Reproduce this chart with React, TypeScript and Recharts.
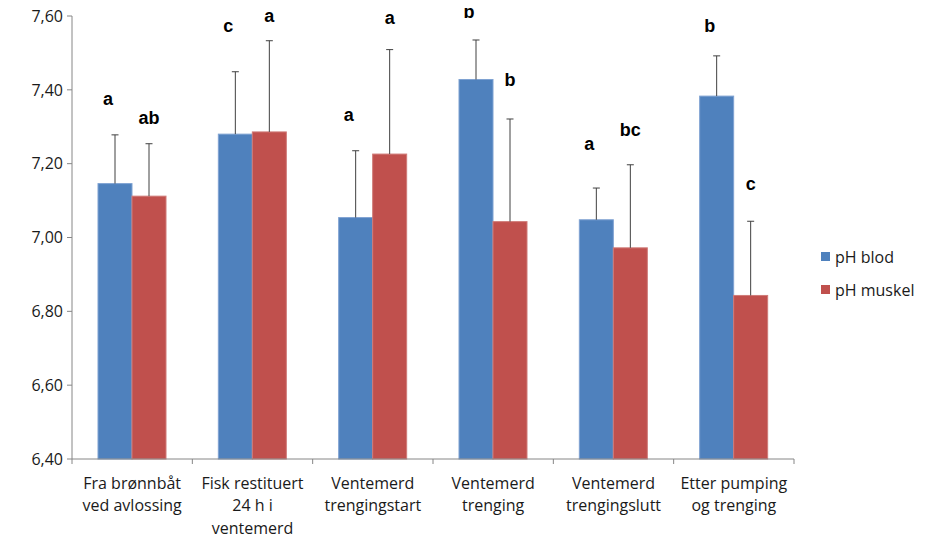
import * as React from "react";
import { Bar, BarChart, XAxis, YAxis } from "recharts";

const categories = [
  "Fra brønnbåt\nved avlossing",
  "Fisk restituert\n24 h i\nventemerd",
  "Ventemerd\ntrengingstart",
  "Ventemerd\ntrenging",
  "Ventemerd\ntrengingslutt",
  "Etter pumping\nog trenging",
];
const phBlod = [7.146, 7.28, 7.054, 7.428, 7.048, 7.383];
const phMuskel = [7.112, 7.286, 7.226, 7.043, 6.972, 6.843];
const errBlod = [0.132, 0.169, 0.181, 0.107, 0.086, 0.109];
const errMuskel = [0.142, 0.247, 0.283, 0.278, 0.225, 0.201];
const letterBlod = ["a", "c", "a", "b", "a", "b"];
const letterMuskel = ["ab", "a", "a", "b", "bc", "c"];
// where each significance letter sits, in pH units
const letterAtBlod = [7.374, 7.572, 7.331, 7.61, 7.252, 7.572];
const letterAtMuskel = [7.325, 7.599, 7.594, 7.426, 7.29, 7.146];
const yTicks = [6.4, 6.6, 6.8, 7.0, 7.2, 7.4, 7.6];

const Y_MIN = yTicks[0];
const AXIS_COLOR = "#868686";
const FONT = "'Open Sans', sans-serif";

const data = categories.map((name, i) => ({
  name,
  blod: phBlod[i],
  muskel: phMuskel[i],
  errBlod: errBlod[i],
  errMuskel: errMuskel[i],
  letterBlod: letterBlod[i],
  letterMuskel: letterMuskel[i],
  letterAtBlod: letterAtBlod[i],
  letterAtMuskel: letterAtMuskel[i],
}));

const series = [
  { key: "blod", name: "pH blod", color: "#4F81BD", edge: "#7FA2D2", err: "errBlod", letter: "letterBlod", at: "letterAtBlod", dx: -7 },
  { key: "muskel", name: "pH muskel", color: "#C0504D", edge: "#D07B78", err: "errMuskel", letter: "letterMuskel", at: "letterAtMuskel", dx: 0 },
];

function makeShape(s: (typeof series)[number]) {
  return (props: any) => {
    const { x, y, width, height, payload } = props;
    const value = payload[s.key];
    const ppu = height / (value - Y_MIN);
    const cx = x + width / 2;
    const errTop = y - payload[s.err] * ppu;
    const letterY = y - (payload[s.at] - value) * ppu;
    return (
      <g>
        <rect x={x} y={y} width={width} height={height} fill={s.color} stroke={s.edge} strokeWidth={1} />
        <line x1={cx} y1={y} x2={cx} y2={errTop} stroke="#404040" strokeWidth={1} />
        <line x1={cx - 3.5} y1={errTop} x2={cx + 3.5} y2={errTop} stroke="#404040" strokeWidth={1} />
        <text
          x={cx + s.dx}
          y={letterY}
          textAnchor="middle"
          dominantBaseline="central"
          fontFamily="'Liberation Sans', Arial, sans-serif"
          fontWeight="bold"
          fontSize={18}
          fill="#000"
        >
          {payload[s.letter]}
        </text>
      </g>
    );
  };
}

function CategoryTick(props: any) {
  const { x, y, payload, index, width, visibleTicksCount } = props;
  const band = width / visibleTicksCount;
  const lines = String(payload.value).split("\n");
  const axisY = y - 8;
  return (
    <g>
      <line x1={x - band / 2} y1={axisY} x2={x - band / 2} y2={axisY + 5} stroke={AXIS_COLOR} />
      {index === visibleTicksCount - 1 && (
        <line x1={x + band / 2} y1={axisY} x2={x + band / 2} y2={axisY + 5} stroke={AXIS_COLOR} />
      )}
      <text x={x} y={axisY + 24} textAnchor="middle" fontFamily={FONT} fontSize={16} fill="#1a1a1a">
        {lines.map((l, i) => (
          <tspan key={i} x={x} dy={i === 0 ? "0.35em" : 22.5}>
            {l}
          </tspan>
        ))}
      </text>
    </g>
  );
}

function LegendBox() {
  return (
    <div style={{ position: "absolute", left: 813, top: 240, fontFamily: FONT, fontSize: 16, color: "#1a1a1a" }}>
      {series.map((s) => (
        <div key={s.key} style={{ display: "flex", alignItems: "center", height: 33 }}>
          <span style={{ width: 9, height: 9, background: s.color, marginRight: 5, display: "inline-block" }} />
          {s.name}
        </div>
      ))}
    </div>
  );
}

export default function App() {
  return (
    <div style={{ position: "relative", width: 912, height: 539, marginTop: -8, background: "#fff" }}>
      <BarChart
        width={912}
        height={539}
        data={data}
        margin={{ top: 16, right: 126, bottom: 10, left: 8 }}
        barCategoryGap={26}
        barGap={0}
      >
        <XAxis
          dataKey="name"
          interval={0}
          height={70}
          stroke={AXIS_COLOR}
          tickLine={false}
          tick={<CategoryTick />}
        />
        <YAxis
          domain={[Y_MIN, yTicks[yTicks.length - 1]]}
          ticks={yTicks}
          width={56}
          stroke={AXIS_COLOR}
          tickSize={5}
          tickMargin={4}
          tickFormatter={(v: number) => v.toFixed(2).replace(".", ",")}
          tick={{ fontFamily: FONT, fontSize: 16, fill: "#1a1a1a" }}
        />
        {series.map((s) => (
          <Bar
            key={s.key}
            dataKey={s.key}
            name={s.name}
            fill={s.color}
            isAnimationActive={false}
            shape={makeShape(s)}
          />
        ))}
      </BarChart>
      <LegendBox />
    </div>
  );
}
